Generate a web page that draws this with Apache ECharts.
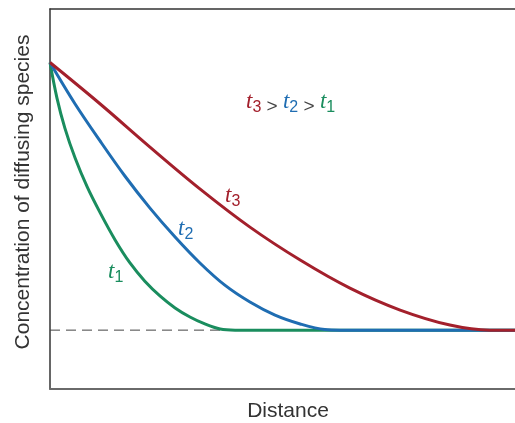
<!DOCTYPE html>
<html>
<head>
<meta charset="utf-8">
<script src="https://cdn.jsdelivr.net/npm/echarts@6/dist/echarts.min.js"></script>
<style>
  html, body { margin: 0; padding: 0; background: #fff; }
  #chart { width: 515px; height: 423px; }
</style>
</head>
<body>
<div id="chart"></div>
<script>
// Concentration profiles (normalised, surface = 1) versus distance (0–100)
// at three times t1 < t2 < t3.
const distT1 = [0, 1.5, 3.2, 5.4, 8.0, 10.8, 14.0, 17.2, 20.4, 23.7, 26.9, 30.1, 33.3, 36.6, 39.8, 100];
const concT1 = [1.0, 0.867, 0.755, 0.643, 0.535, 0.438, 0.337, 0.251, 0.183, 0.127, 0.083, 0.049, 0.023, 0.004, 0, 0];

const distT2 = [0, 5.4, 10.8, 16.1, 21.5, 26.9, 32.3, 37.6, 43.0, 48.4, 53.8, 59.1, 62.4, 100];
const concT2 = [1.0, 0.845, 0.706, 0.576, 0.456, 0.348, 0.250, 0.168, 0.105, 0.056, 0.023, 0.002, 0, 0];

const distT3 = [0, 10.8, 21.5, 32.3, 43.0, 53.8, 64.5, 75.3, 86.0, 94.6, 100];
const concT3 = [1.0, 0.845, 0.684, 0.527, 0.385, 0.262, 0.157, 0.075, 0.019, 0, 0];

// Initial (bulk) concentration level, drawn dashed
const baseDist = [0, 100];
const baseConc = [0, 0];

const xTitle = 'Distance';
const yTitle = 'Concentration of diffusing species';

const RED = '#a3202c';
const BLUE = '#1f6db2';
const GREEN = '#1a8d5e';
const TEXT = '#333333';

const pairs = (xs, ys) => xs.map((x, i) => [x, ys[i]]);

const chart = echarts.init(document.getElementById('chart'), null, { renderer: 'canvas' });

const hidden = { show: false };
const tRich = (color) => ({
  fontFamily: 'Liberation Serif', fontStyle: 'italic', fontSize: 23,
  lineHeight: 22, fill: color, verticalAlign: 'top'
});
// subscripts: bottom-aligned in a taller line so the digit drops below the baseline
const subRich = (color) => ({
  fontFamily: 'Liberation Sans', fontSize: 16, lineHeight: 26,
  fill: color, verticalAlign: 'bottom'
});
const richSet = {
  r: tRich(RED), rs: subRich(RED),
  b: tRich(BLUE), bs: subRich(BLUE),
  g: tRich(GREEN), gs: subRich(GREEN),
  op: { fontFamily: 'Liberation Sans', fontSize: 19, lineHeight: 23, fill: '#444', verticalAlign: 'bottom' }
};

function label(x, y, text) {
  return {
    type: 'text', x: x, y: y, z: 10,
    style: { text: text, rich: richSet, align: 'left', verticalAlign: 'top' }
  };
}

const option = {
  backgroundColor: '#ffffff',
  animation: false,
  grid: { left: 50, top: 9, right: 0, bottom: 34 },
  xAxis: [
    {
      type: 'value', min: 0, max: 100, position: 'bottom',
      axisLine: { show: true, onZero: false, lineStyle: { color: '#6a6a6a', width: 2 } },
      axisTick: hidden, axisLabel: hidden, splitLine: hidden
    },
    {
      type: 'value', min: 0, max: 100, position: 'top',
      axisLine: { show: true, onZero: false, lineStyle: { color: '#333', width: 1.5 } },
      axisTick: hidden, axisLabel: hidden, splitLine: hidden
    }
  ],
  yAxis: {
    type: 'value', min: -0.22, max: 1.2,
    axisLine: { show: true, onZero: false, lineStyle: { color: '#333', width: 1.5 } },
    axisTick: hidden, axisLabel: hidden, splitLine: hidden
  },
  series: [
    {
      type: 'line', data: pairs(baseDist, baseConc), symbol: 'none', silent: true,
      lineStyle: { color: '#444', width: 1, type: [10, 6] }
    },
    {
      type: 'line', data: pairs(distT1, concT1), symbol: 'none', smooth: 0.35,
      lineStyle: { color: GREEN, width: 3 }
    },
    {
      type: 'line', data: pairs(distT2, concT2), symbol: 'none', smooth: 0.35,
      lineStyle: { color: BLUE, width: 3 }
    },
    {
      type: 'line', data: pairs(distT3, concT3), symbol: 'none', smooth: 0.35,
      lineStyle: { color: RED, width: 3 }
    }
  ],
  graphic: [
    label(225, 184, '{r|t}{rs|3}'),
    label(178, 217, '{b|t}{bs|2}'),
    label(108, 260, '{g|t}{gs|1}'),
    label(246, 90, '{r|t}{rs|3}{op| > }{b|t}{bs|2}{op| > }{g|t}{gs|1}'),
    {
      type: 'text', x: 288, y: 411,
      style: { text: xTitle, font: '21px "Liberation Sans"', fill: TEXT, align: 'center', verticalAlign: 'middle' }
    },
    {
      type: 'text', x: 23, y: 192, rotation: Math.PI / 2,
      style: { text: yTitle, font: '21px "Liberation Sans"', fill: TEXT, align: 'center', verticalAlign: 'middle' }
    }
  ]
};

chart.setOption(option);
</script>
</body>
</html>
